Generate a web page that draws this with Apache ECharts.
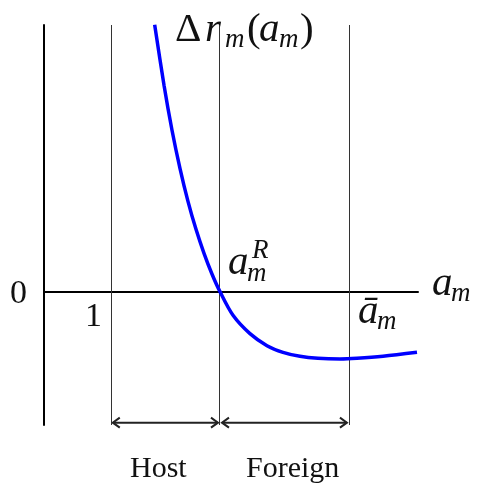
<!DOCTYPE html>
<html>
<head>
<meta charset="utf-8">
<script src="https://cdn.jsdelivr.net/npm/echarts@6/dist/echarts.min.js"></script>
<style>
  html, body { margin: 0; padding: 0; background: #fff; }
  #main { width: 477px; height: 484px; }
</style>
</head>
<body>
<div id="main"></div>
<script>
// curve: a_m along x, Δr_m along y
var curveX = [1.657, 1.797, 1.916, 2.036, 2.156, 2.276, 2.396, 2.515, 2.635, 2.830, 3.084, 3.339, 3.578, 3.833, 4.102, 4.432, 4.686, 5.076, 5.585];
var curveY = [8.01, 6.19, 4.85, 3.70, 2.71, 1.87, 1.15, 0.53, 0, -0.71, -1.26, -1.62, -1.82, -1.94, -2.00, -2.02, -2.00, -1.94, -1.82];

// marked points on the a_m axis: 1, a_m^R, ā_m
var marks = [1, 2.635, 4.566];
// ranges under the axis
var ranges = [[1, 2.635], [2.635, 4.566]];
var rangeNames = ['Host', 'Foreign'];

var chart = echarts.init(document.getElementById('main'));

var serif = '"Liberation Serif", "DejaVu Serif", serif';
var big = 41, small = 27;

// label pieces: text, left x, baseline, size, italic
var pieces = [
    ['Δ', 175, 43, big, false],
    ['r', 205, 43, big, true],
    ['m', 225, 49, small, true],
    ['(', 247, 43, big, false],
    ['a', 259, 43, big, true],
    ['m', 279, 49, small, true],
    [')', 300, 43, big, false],
    ['a', 228, 276, big, true],
    ['R', 252, 260, small, true],
    ['m', 247, 283, small, true],
    ['a', 432, 297, big, true],
    ['m', 451, 303, small, true],
    ['ā', 358, 325, big, true],
    ['m', 377, 331, small, true],
    ['0', 10, 305, 34, false],
    ['1', 85, 328, 34, false],
    ['Host', 130, 479, 30, false],
    ['Foreign', 246, 479, 30, false]
];

var graphics = pieces.map(function (p) {
    return {
        type: 'text',
        silent: true,
        style: {
            text: p[0],
            x: p[1],
            y: p[2] - p[3] * 0.32,
            font: (p[4] ? 'italic ' : '') + p[3] + 'px ' + serif,
            fill: '#111',
            align: 'left',
            verticalAlign: 'middle'
        }
    };
});

var curve = curveX.map(function (x, i) { return [x, curveY[i]]; });

chart.setOption({
    animation: false,
    grid: { left: 44, right: 59, top: 25, bottom: 59 },
    xAxis: {
        type: 'value', min: 0, max: 5.6,
        axisLine: { onZero: true, lineStyle: { color: '#000', width: 2 } },
        axisTick: { show: false },
        axisLabel: { show: false },
        splitLine: { show: false }
    },
    yAxis: {
        type: 'value', min: -4, max: 8,
        axisLine: { show: true, onZero: true, lineStyle: { color: '#000', width: 2 } },
        axisTick: { show: false },
        axisLabel: { show: false },
        splitLine: { show: false }
    },
    graphic: graphics,
    series: [
        {
            type: 'line',
            data: curve,
            smooth: 0.3,
            symbol: 'none',
            clip: true,
            z: 5,
            lineStyle: { color: '#0000ff', width: 3.5 },
            markLine: {
                silent: true,
                symbol: 'none',
                label: { show: false },
                lineStyle: { color: '#333', width: 1, type: 'solid' },
                data: marks.map(function (m) { return { xAxis: m }; })
            }
        },
        {
            // double-headed arrows under the axis
            type: 'custom',
            silent: true,
            data: ranges.map(function (r, i) { return { value: [r[0], r[1], -3.93], name: rangeNames[i] }; }),
            renderItem: function (params, api) {
                var a = api.coord([api.value(0), api.value(2)]);
                var b = api.coord([api.value(1), api.value(2)]);
                var x1 = a[0] + 2, x2 = b[0] - 2, y = a[1];
                var st = { stroke: '#222', lineWidth: 2, fill: 'none' };
                return {
                    type: 'group',
                    children: [
                        { type: 'line', shape: { x1: x1, y1: y, x2: x2, y2: y }, style: st },
                        { type: 'polyline', shape: { points: [[x1 + 7, y - 5], [x1, y], [x1 + 7, y + 5]] }, style: st },
                        { type: 'polyline', shape: { points: [[x2 - 7, y - 5], [x2, y], [x2 - 7, y + 5]] }, style: st }
                    ]
                };
            }
        }
    ]
});
</script>
</body>
</html>
